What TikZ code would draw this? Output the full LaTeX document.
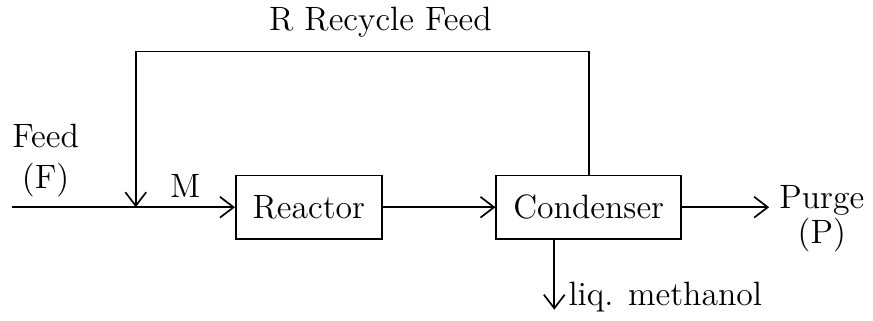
\documentclass[tikz,border=0pt]{standalone}
\usepackage{tikz}
\usetikzlibrary{arrows.meta}
\usetikzlibrary{positioning}
\tikzstyle{unit} = [rectangle, minimum height=7.9mm, inner sep=2mm, text centered, draw=black, semithick, font=\large]
\tikzstyle{label} = [font=\large]
\tikzstyle{arrow} = [semithick,->,>={Straight Barb[length=1.7mm,width=2.6mm]}]

\begin{document}
\begin{tikzpicture}

\useasboundingbox (0,0) rectangle (109.125mm,-40mm);

\node (reactor) [unit, minimum width=18.25mm] at (38.6mm,-25.9mm) {Reactor};
\node (cond) [unit, minimum width=23.1mm, right=14.1mm of reactor] {Condenser};

\coordinate (feedin) at ([xshift=-27.9mm]reactor.west);
\coordinate (mix) at ([xshift=-12.4mm]reactor.west);

\node (feedlbl) [label, anchor=south west, inner xsep=0, align=center] at (feedin) {Feed\\[0.2mm](F)};

\draw [arrow] (feedin) -- (mix) -- node[label, above] {M} (reactor.west);
\draw [arrow] (reactor) -- (cond);
\draw [arrow] (cond.north) -- ++(0,15.4mm) -| node[label, pos=0.23, above=0.5mm] {R Recycle Feed} (mix);
\draw [arrow] (cond.east) -- ++(10.9mm,0) node[label, right, align=center, yshift=-1.4mm] {Purge\\[-0.5mm](P)};
\draw [arrow] ([xshift=-4.3mm]cond.south) -- ++(0,-8.75mm) node[label, right, xshift=0.5mm, yshift=1.6mm] {liq. methanol};

\end{tikzpicture}
\end{document}
